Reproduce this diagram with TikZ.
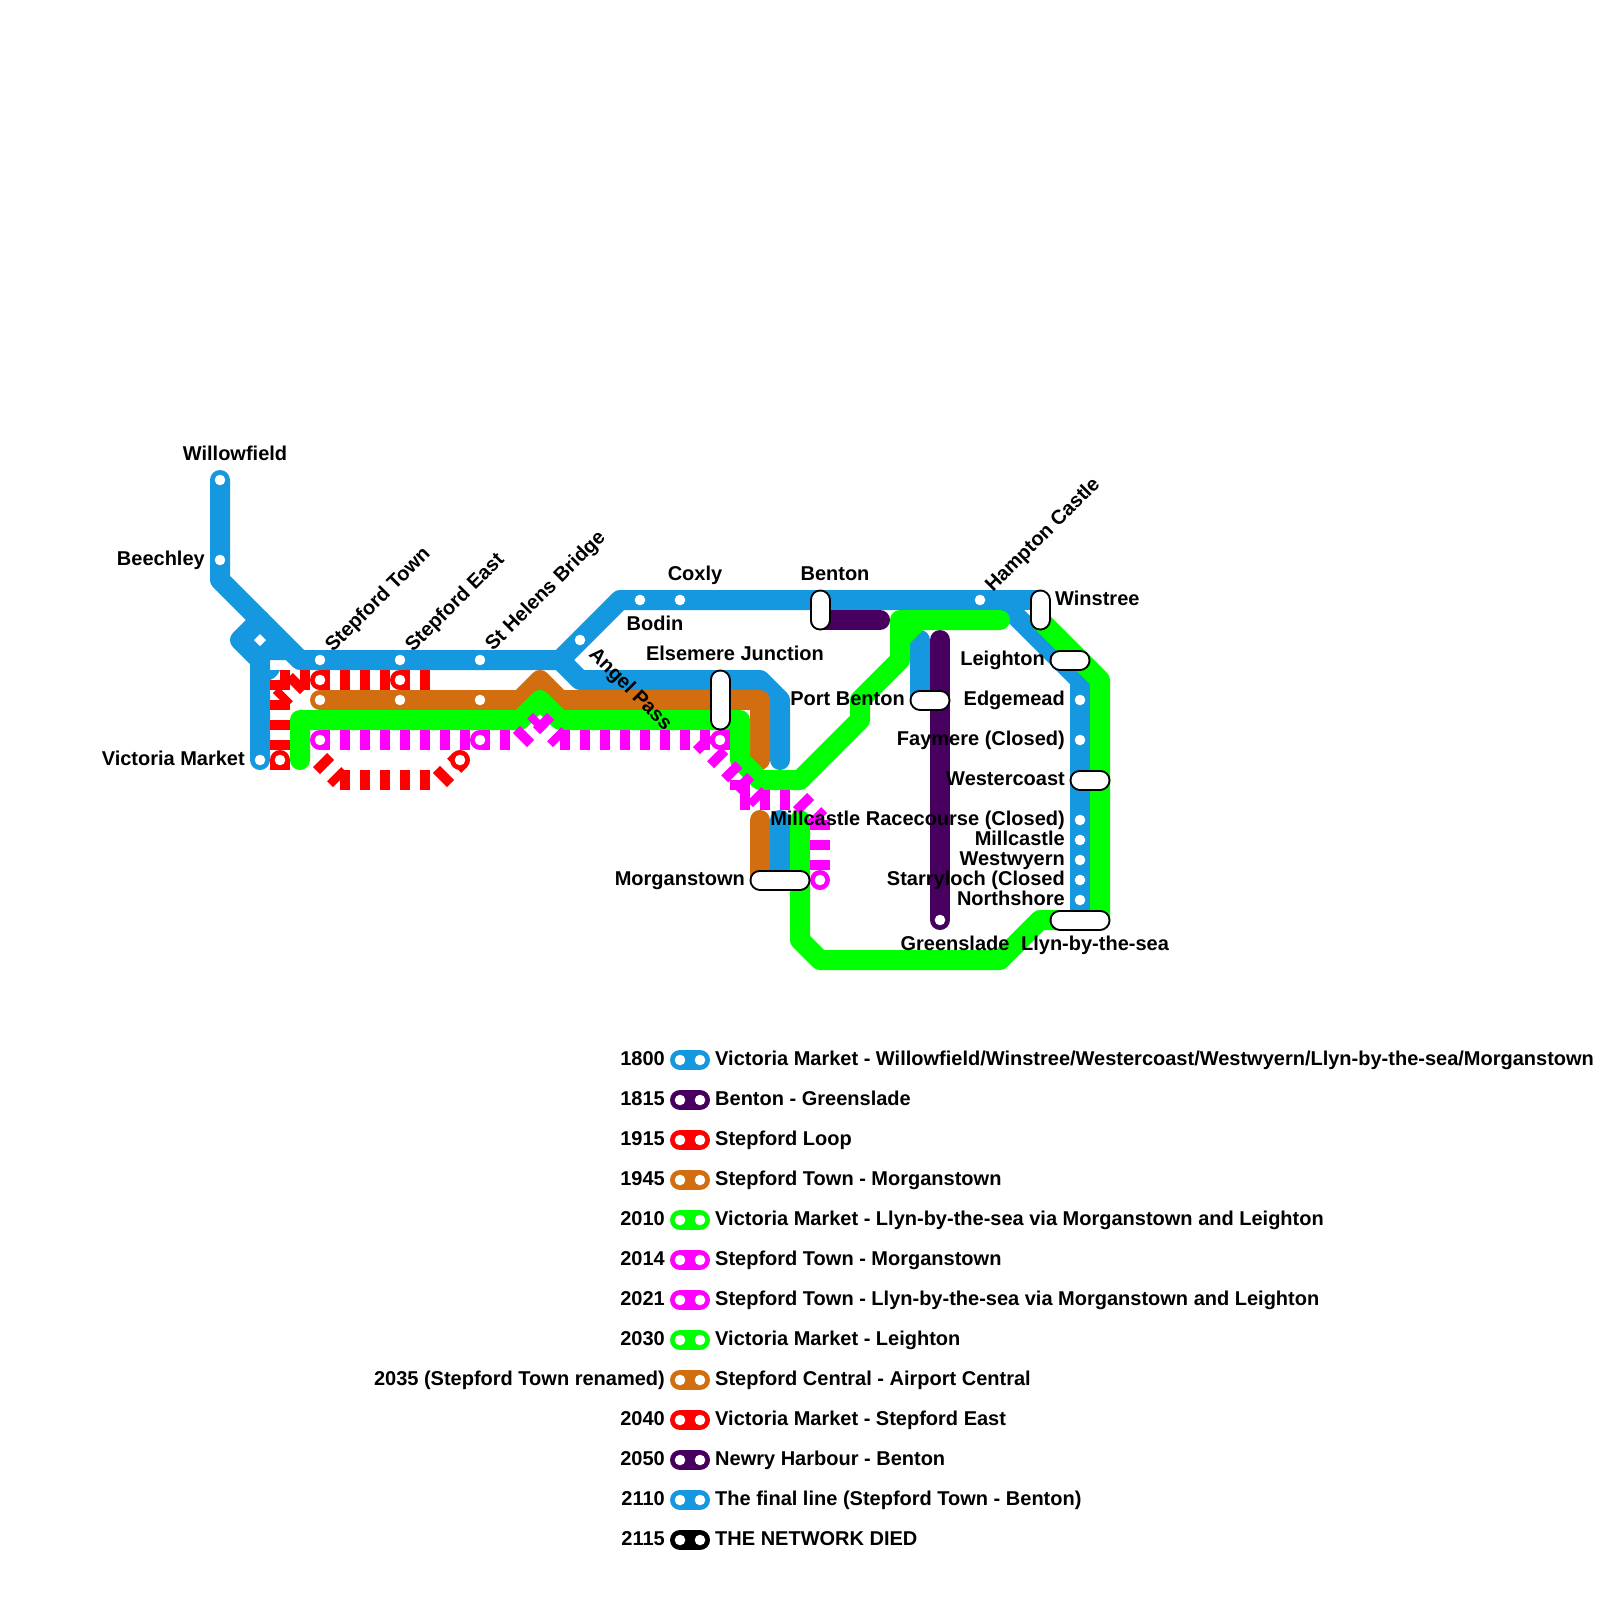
\documentclass[tikz,border=0pt]{standalone}
\usepackage{fontspec}
\setmainfont{Liberation Sans}[BoldFont={Liberation Sans Bold}]
\definecolor{lineblue}{HTML}{1598E0}
\definecolor{linepurple}{HTML}{47005F}
\definecolor{lineorange}{HTML}{D26D10}
\definecolor{linegreen}{HTML}{00FF00}
\definecolor{linered}{HTML}{FF0000}
\definecolor{linemagenta}{HTML}{FF00FF}
\tikzset{
    railline/.style={line width=20pt, line cap=round, line join=round},
    dashline/.style={line width=20pt, dash pattern=on 10pt off 10pt},
    stnpill/.style={draw=black, line width=2pt, line cap=round, double=white, double distance=17pt},
    stnlabel/.style={font=\bfseries\fontsize{20}{24}\selectfont, inner sep=0pt},
    lblleft/.style={stnlabel, anchor=base east},
    lblright/.style={stnlabel, anchor=base west},
    lblmid/.style={stnlabel, anchor=base},
    lblup/.style={stnlabel, anchor=base west, rotate=45}
}
\begin{document}
\begin{tikzpicture}[x=1pt, y=-1pt]
    \useasboundingbox (0,0) rectangle (1600,1600);

    % Blue lines
    \draw[railline, lineblue] (220,480) -- (220,580) -- (300,660) -- (560,660) -- (620,600) -- (1000,600) -- (1080,680) -- (1080,920);
    \draw[railline, lineblue] (1000,600) -- (1040,600);
    \draw[railline, lineblue] (560,660) -- (580,680) -- (760,680) -- (780,700) -- (780,760);
    \draw[railline, lineblue] (260,760) -- (260,660) -- (240,640) -- (260,620);
    \draw[railline, lineblue] (780,820) -- (780,880);
    \draw[railline, lineblue] (920,640) -- (920,700);
    \fill[lineblue] (240,640) -- (260,620) -- (300,660) -- (260,660) -- cycle;
    \fill[lineblue] (270,670) -- (280,670) .. controls (278,675) and (275,678) .. (270,680) -- cycle;

    % Purple lines
    \draw[railline, linepurple] (820,620) -- (880,620);
    \draw[railline, linepurple] (940,640) -- (940,920);

    % Red loop
    \draw[dashline, linered] (280,680) -- (320,680);
    \draw[dashline, linered] (320,680) -- (440,680);
    \draw[dashline, linered] (300,680) -- (280,700);
    \draw[dashline, linered] (280,680) -- (280,760);
    \draw[dashline, linered] (280,760) -- (280,770);
    \draw[dashline, linered] (320,760) -- (340,780);
    \draw[dashline, linered] (340,780) -- (440,780);
    \draw[dashline, linered] (440,780) -- (460,760);

    % Orange lines
    \draw[railline, lineorange] (320,700) -- (520,700) -- (540,680) -- (560,700) -- (760,700) -- (760,760);
    \draw[railline, lineorange] (760,820) -- (760,880);

    % Green lines
    \draw[railline, linegreen] (300,760) -- (300,720) -- (520,720) -- (540,700) -- (560,720) -- (740,720) -- (740,760) -- (760,780) -- (800,780) -- (860,720) -- (860,700) -- (900,660) -- (900,620) -- (1000,620);
    \draw[railline, linegreen] (800,820) -- (800,940) -- (820,960) -- (1000,960) -- (1040,920) -- (1100,920) -- (1100,680) -- (1040,620);
    \fill[linegreen] (909,630) -- (923,630) -- (909,644) -- cycle;

    % Magenta lines
    \draw[dashline, linemagenta] (320,740) -- (520,740);
    \draw[dashline, linemagenta] (520,740) -- (540,720);
    \draw[dashline, linemagenta] (540,720) -- (560,740);
    \draw[dashline, linemagenta] (560,740) -- (730,740);
    \draw[dashline, linemagenta] (700,740) -- (740,780);
    \draw[dashline, linemagenta] (740,780) -- (740,800);
    \draw[dashline, linemagenta] (740,780) -- (760,800);
    \draw[dashline, linemagenta] (740,800) -- (800,800);
    \draw[dashline, linemagenta] (800,800) -- (820,820);
    \draw[dashline, linemagenta] (820,820) -- (820,880);

    % Ringed stations
    \foreach \x/\y in {280/760, 320/680, 400/680, 460/760} {
      \fill[linered] (\x,\y) circle (10pt);
    }
    \foreach \x/\y in {320/740, 480/740, 720/740, 820/880} {
      \fill[linemagenta] (\x,\y) circle (10pt);
    }

    % Station dots
    \foreach \x/\y in {220/480, 220/560, 260/760, 280/760, 320/660, 400/660, 480/660, 320/680, 400/680, 320/700, 400/700, 480/700,
                       320/740, 480/740, 720/740, 460/760, 820/880, 580/640, 640/600, 680/600, 980/600, 940/920,
                       1080/700, 1080/740, 1080/820, 1080/840, 1080/860, 1080/880, 1080/900} {
      \fill[white] (\x,\y) circle (5.3pt);
    }
    \fill[white] (260,634) -- (266,640) -- (260,646) -- (254,640) -- cycle;

    % Interchange pills
    \draw[stnpill] (720,680) -- (720,720);
    \draw[stnpill] (820,600) -- (820,620);
    \draw[stnpill] (1040,600) -- (1040,620);
    \draw[stnpill] (1060,660) -- (1080,660);
    \draw[stnpill] (920,700) -- (940,700);
    \draw[stnpill] (1080,780) -- (1100,780);
    \draw[stnpill] (760,880) -- (800,880);
    \draw[stnpill] (1060,920) -- (1100,920);

    % Station labels
    \node[lblmid] (willowfield) at (235,460) {Willowfield};
    \node[lblleft] (beechley) at (205,565) {Beechley};
    \node[lblleft] (vicmarket) at (245,765) {Victoria Market};
    \node[lblup] (stepfordtown) at (333,653) {Stepford Town};
    \node[lblup] (stepfordeast) at (413,653) {Stepford East};
    \node[lblup] (sthelens) at (493,652) {St Helens Bridge};
    \node[stnlabel, anchor=base west, rotate=-45] (angelpass) at (588,655) {Angel Pass};
    \node[lblmid] (bodin) at (655,630) {Bodin};
    \node[lblmid] (coxly) at (695,580) {Coxly};
    \node[lblmid] (elsemere) at (735,660) {Elsemere Junction};
    \node[lblmid] (benton) at (835,580) {Benton};
    \node[lblup] (hampton) at (993,593) {Hampton Castle};
    \node[lblright] (winstree) at (1055,605) {Winstree};
    \node[lblleft] (portbenton) at (905,705) {Port Benton};
    \node[lblleft] (morganstown) at (745,885) {Morganstown};
    \node[lblleft] (leighton) at (1045,665) {Leighton};
    \node[lblleft] (edgemead) at (1065,705) {Edgemead};
    \node[lblleft] (faymere) at (1065,745) {Faymere (Closed)};
    \node[lblleft] (westercoast) at (1065,785) {Westercoast};
    \node[lblleft] (racecourse) at (1065,825) {Millcastle Racecourse (Closed)};
    \node[lblleft] (millcastle) at (1065,845) {Millcastle};
    \node[lblleft] (westwyern) at (1065,865) {Westwyern};
    \node[lblleft] (starryloch) at (1065,885) {Starryloch (Closed};
    \node[lblleft] (northshore) at (1065,905) {Northshore};
    \node[lblmid] (greenslade) at (955,950) {Greenslade};
    \node[lblmid] (llyn) at (1095,950) {Llyn-by-the-sea};

    % Legend
    \foreach \yr/\col/\txt [count=\i from 0] in {
        1800/lineblue/{Victoria Market - Willowfield/Winstree/Westercoast/Westwyern/Llyn-by-the-sea/Morganstown},
        1815/linepurple/{Benton - Greenslade},
        1915/linered/{Stepford Loop},
        1945/lineorange/{Stepford Town - Morganstown},
        2010/linegreen/{Victoria Market - Llyn-by-the-sea via Morganstown and Leighton},
        2014/linemagenta/{Stepford Town - Morganstown},
        2021/linemagenta/{Stepford Town - Llyn-by-the-sea via Morganstown and Leighton},
        2030/linegreen/{Victoria Market - Leighton},
        2035 (Stepford Town renamed)/lineorange/{Stepford Central - Airport Central},
        2040/linered/{Victoria Market - Stepford East},
        2050/linepurple/{Newry Harbour - Benton},
        2110/lineblue/{The final line (Stepford Town - Benton)},
        2115/black/{THE NETWORK DIED}} {
      \pgfmathsetmacro{\ypos}{1060+40*\i}
      \draw[railline, \col] (680,\ypos) -- (700,\ypos);
      \fill[white] (680,\ypos) circle (5.3pt);
      \fill[white] (700,\ypos) circle (5.3pt);
      \node[lblleft] (year\i) at (665,\ypos+5) {\yr};
      \node[lblright] (desc\i) at (715,\ypos+5) {\txt};
    }

\end{tikzpicture}
\end{document}
